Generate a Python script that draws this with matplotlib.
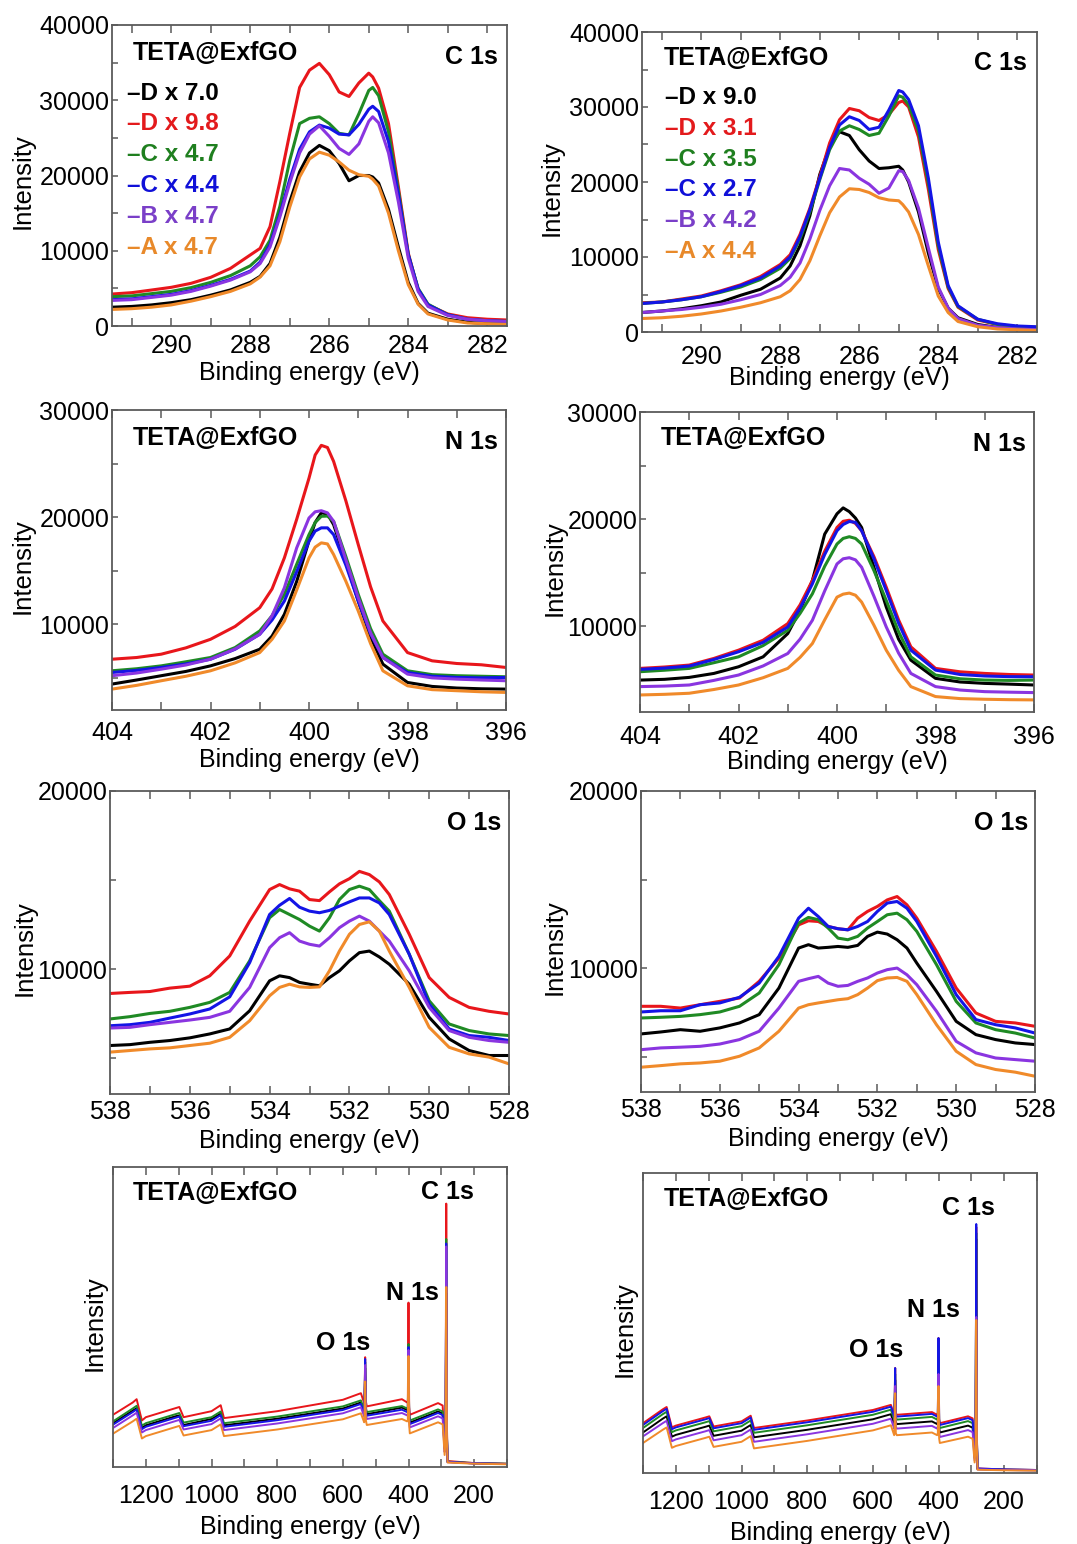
import matplotlib
matplotlib.use('Agg')
import matplotlib.pyplot as plt
from matplotlib.ticker import MultipleLocator

plt.rcParams['font.family'] = ['Liberation Sans', 'DejaVu Sans']

# sample order: D, D, C, C, B, A
LINE_COLORS = ['#000000', '#e8161b', '#1f8a24', '#1414e6', '#8a35e0', '#f08a2a']
TEXT_COLORS = ['#000000', '#e31a1c', '#1f7f1f', '#1010d8', '#7a3fc8', '#e8892a']

labels_left = ['\u2013D x 7.0', '\u2013D x 9.8', '\u2013C x 4.7',
               '\u2013C x 4.4', '\u2013B x 4.7', '\u2013A x 4.7']
labels_right = ['\u2013D x 9.0', '\u2013D x 3.1', '\u2013C x 3.5',
                '\u2013C x 2.7', '\u2013B x 4.2', '\u2013A x 4.4']

# ---- C 1s ----
c1s_be = [291.5, 291.0, 290.5, 290.0, 289.5, 289.0, 288.5, 288.0, 287.75,
          287.5, 287.25, 287.0, 286.75, 286.5, 286.25, 286.0, 285.75, 285.5,
          285.25, 285.0, 284.9, 284.75, 284.5, 284.25, 284.0, 283.75, 283.5,
          283.0, 282.5, 282.0, 281.5]

c1s_l_black = [2500, 2600, 2800, 3100, 3500, 4100, 4800, 5800, 6600, 8300,
               11800, 16500, 20500, 23000, 24000, 23300, 21600, 19300, 20000,
               20000, 19800, 19000, 15500, 10500, 5800, 3000, 1700, 900, 500,
               300, 300]
c1s_l_red = [4250, 4430, 4780, 5140, 5670, 6470, 7660, 9440, 10320, 13200,
             19200, 25600, 31700, 34000, 34900, 33400, 31100, 30500, 32300,
             33600, 33100, 31600, 26900, 18500, 9700, 4800, 2800, 1600, 1100,
             900, 800]
c1s_l_green = [3900, 4000, 4300, 4600, 5100, 5800, 6700, 8000, 9200, 11400,
               15900, 22000, 26900, 27600, 27800, 26900, 25600, 25400, 28200,
               31300, 31700, 30600, 25800, 18000, 9500, 5000, 2900, 1500, 900,
               700, 600]
c1s_l_blue = [3500, 3600, 3900, 4200, 4700, 5400, 6200, 7300, 8500, 10800,
              14800, 19500, 23500, 25800, 26700, 26300, 25500, 25400, 26800,
              28800, 29200, 28500, 24500, 17500, 9500, 4900, 2800, 1500, 900,
              700, 600]
c1s_l_purple = [3400, 3500, 3800, 4100, 4600, 5300, 6100, 7200, 8300, 10500,
                14500, 19000, 23000, 25500, 26600, 25200, 23600, 22800, 24200,
                27200, 27800, 27000, 23000, 16500, 9000, 4600, 2600, 1400, 900,
                700, 600]
c1s_l_orange = [2200, 2300, 2500, 2800, 3300, 3900, 4600, 5600, 6500, 8000,
                11200, 15800, 19800, 22200, 23100, 22700, 21800, 20700, 20100,
                19900, 19500, 18600, 15000, 10000, 5500, 2900, 1600, 800, 400,
                300, 200]

c1s_r_black = [2600, 2800, 3100, 3500, 4000, 4900, 5700, 7200, 8800, 11500,
               15500, 21000, 24700, 26700, 26200, 24300, 22800, 21800, 21900,
               22100, 21600, 20000, 16000, 10500, 5800, 3200, 1900, 1000, 600,
               400, 300]
c1s_r_red = [3900, 4000, 4400, 4800, 5500, 6300, 7400, 9000, 10300, 13000,
             16500, 20700, 25200, 28300, 29800, 29500, 28600, 28200, 29000,
             30600, 30800, 30000, 26000, 19000, 11000, 5800, 3300, 1600, 1000,
             700, 600]
c1s_r_green = [3800, 4000, 4300, 4700, 5300, 6000, 7000, 8500, 9800, 12400,
               16000, 20300, 24300, 26800, 27500, 27000, 26200, 26500, 28800,
               31500, 31300, 30300, 26800, 19800, 11500, 6000, 3400, 1700,
               1000, 700, 600]
c1s_r_blue = [3800, 4000, 4300, 4700, 5400, 6200, 7200, 8800, 10000, 12700,
              16300, 20500, 24600, 27600, 28700, 28200, 27000, 27300, 29600,
              32200, 32000, 31000, 27500, 20500, 12000, 6200, 3500, 1700, 1100,
              800, 700]
c1s_r_purple = [2600, 2800, 3000, 3300, 3700, 4300, 5000, 6200, 7300, 9200,
                12400, 16200, 19500, 21800, 21600, 20500, 19700, 18500, 19200,
                21500, 21400, 20200, 16500, 11200, 6000, 3200, 1800, 900, 600,
                400, 300]
c1s_r_orange = [1800, 1900, 2100, 2400, 2800, 3300, 3900, 4700, 5500, 7000,
                9500, 12800, 15900, 18000, 19100, 19000, 18600, 17900, 17600,
                17500, 17000, 16000, 13000, 8800, 4800, 2600, 1400, 700, 400,
                300, 200]

# ---- N 1s ----
n1s_be = [404.0, 403.5, 403.0, 402.5, 402.0, 401.5, 401.0, 400.75, 400.5,
          400.25, 400.0, 399.875, 399.75, 399.625, 399.5, 399.25, 399.0,
          398.75, 398.5, 398.0, 397.5, 397.0, 396.5, 396.0]

n1s_l_black = [4420, 4800, 5200, 5600, 6120, 6800, 7670, 8900, 10930, 14000,
               17800, 19500, 20400, 20300, 19300, 15800, 12170, 8800, 6280,
               4570, 4200, 4050, 3980, 3950]
n1s_l_red = [6740, 6900, 7210, 7800, 8600, 9800, 11550, 13300, 16200, 19800,
             23640, 25800, 26700, 26500, 25200, 21500, 17440, 13500, 10310,
             7360, 6590, 6340, 6220, 5970]
n1s_l_green = [5660, 5850, 6120, 6500, 6900, 7830, 9380, 10800, 12790, 15600,
               18370, 19500, 20080, 20100, 19610, 16300, 12790, 9600, 7210,
               5660, 5300, 5200, 5150, 5100]
n1s_l_blue = [5500, 5700, 5970, 6300, 6740, 7670, 9070, 10400, 12170, 14900,
              17750, 18700, 19000, 19000, 18370, 15500, 12170, 9100, 6900,
              5500, 5150, 5040, 5000, 5040]
n1s_l_purple = [5200, 5450, 5810, 6200, 6740, 7700, 9070, 10800, 13410, 17130,
                19920, 20500, 20600, 20400, 19610, 16000, 12480, 9200, 6900,
                5350, 5000, 4880, 4800, 4730]
n1s_l_orange = [3950, 4300, 4730, 5150, 5660, 6400, 7360, 8600, 10310, 13200,
                16200, 17200, 17600, 17500, 16510, 14000, 11240, 8200, 5660,
                4260, 3900, 3800, 3700, 3640]

n1s_r_black = [4980, 5050, 5230, 5600, 6220, 7150, 9320, 11500, 14270, 18600,
               20500, 21050, 20700, 20100, 19220, 15500, 11800, 8800, 6840,
               5140, 4800, 4670, 4600, 4520]
n1s_r_red = [6070, 6200, 6380, 7000, 7770, 8700, 10250, 12000, 14270, 17000,
             19220, 19800, 19900, 19600, 18920, 16500, 13650, 10600, 8080,
             6070, 5750, 5600, 5500, 5450]
n1s_r_green = [5760, 5900, 6070, 6600, 7150, 8200, 9630, 11200, 13030, 15600,
               17680, 18200, 18360, 18200, 17680, 15200, 12410, 9500, 7150,
               5450, 5100, 4980, 4950, 4980]
n1s_r_blue = [5980, 6100, 6290, 6900, 7620, 8500, 9940, 11700, 13960, 16700,
              18920, 19500, 19780, 19700, 18920, 16300, 13340, 10300, 7770,
              5910, 5500, 5360, 5300, 5290]
n1s_r_purple = [4370, 4420, 4520, 4950, 5450, 6300, 7460, 8800, 10560, 13300,
                15820, 16300, 16400, 16200, 15510, 12800, 9940, 7500, 5600,
                4370, 4050, 3900, 3850, 3810]
n1s_r_orange = [3590, 3650, 3750, 4100, 4520, 5200, 6070, 7100, 8390, 10600,
                12720, 13000, 13100, 12900, 12260, 10100, 7770, 5900, 4370,
                3440, 3250, 3190, 3150, 3130]

# ---- O 1s ----
o1s_be = [538.0, 537.5, 537.0, 536.5, 536.0, 535.5, 535.0, 534.5, 534.0,
          533.75, 533.5, 533.25, 533.0, 532.75, 532.5, 532.25, 532.0, 531.75,
          531.5, 531.25, 531.0, 530.5, 530.0, 529.5, 529.0, 528.5, 528.0]

o1s_l_black = [5720, 5770, 5900, 6000, 6150, 6370, 6650, 7670, 9350, 9630,
               9530, 9260, 9160, 9070, 9530, 9910, 10470, 10930, 11020, 10690,
               10280, 9160, 7300, 6090, 5440, 5160, 5160]
o1s_l_red = [8640, 8700, 8750, 8940, 9050, 9630, 10745, 12700, 14470, 14750,
             14510, 14380, 13910, 13850, 14340, 14790, 15080, 15490, 15310,
             14900, 14190, 11960, 9530, 8420, 7860, 7640, 7490]
o1s_l_green = [7210, 7340, 7520, 7640, 7860, 8140, 8700, 10470, 12890, 13350,
               13070, 12790, 12420, 12140, 12890, 13910, 14470, 14660, 14470,
               13850, 13260, 10840, 8230, 6930, 6560, 6370, 6280]
o1s_l_blue = [6830, 6890, 7020, 7260, 7490, 7770, 8450, 10370, 13070, 13590,
              13970, 13480, 13260, 13170, 13300, 13540, 13780, 14000, 14000,
              13720, 13070, 10840, 8040, 6650, 6280, 6180, 6000]
o1s_l_purple = [6700, 6740, 6890, 7020, 7150, 7300, 7640, 8980, 11210, 11770,
                12050, 11580, 11400, 11300, 11770, 12330, 12700, 12980, 12700,
                12140, 11580, 9910, 7860, 6560, 6180, 6000, 5900]
o1s_l_orange = [5350, 5440, 5530, 5590, 5720, 5850, 6180, 7110, 8510, 8980,
                9160, 9010, 8980, 9010, 9910, 11020, 11960, 12510, 12660, 12140,
                11020, 8980, 6740, 5620, 5250, 5070, 4690]

o1s_r_black = [6280, 6390, 6520, 6430, 6620, 6900, 7370, 8870, 11130, 11320,
               11130, 11170, 11220, 11170, 11280, 11790, 12030, 11920, 11600,
               11130, 10280, 8680, 6990, 6240, 5960, 5770, 5680]
o1s_r_red = [7840, 7840, 7740, 7930, 8120, 8310, 9250, 10560, 12440, 12670,
             12630, 12350, 12220, 12160, 12820, 13200, 13480, 13850, 14040,
             13570, 12820, 10940, 8870, 7460, 6990, 6900, 6710]
o1s_r_green = [7180, 7220, 7270, 7370, 7520, 7840, 8590, 10190, 12540, 12860,
               12730, 12260, 11690, 11600, 11790, 12260, 12630, 13010, 13100,
               12730, 12070, 10190, 8120, 6900, 6520, 6330, 6050]
o1s_r_blue = [7520, 7590, 7590, 7930, 8030, 8350, 9150, 10660, 12820, 13380,
              12910, 12350, 12220, 12160, 12350, 12630, 13200, 13670, 13760,
              13380, 12630, 10660, 8500, 7090, 6800, 6620, 6330]
o1s_r_purple = [5390, 5490, 5530, 5580, 5710, 5960, 6430, 7740, 9250, 9400,
                9530, 9150, 8970, 9020, 9250, 9440, 9720, 9910, 10000, 9620,
                9060, 7560, 5860, 5210, 4920, 4830, 4740]
o1s_r_orange = [4400, 4490, 4590, 4640, 4740, 5020, 5490, 6430, 7740, 7930,
                8030, 8120, 8210, 8270, 8500, 8870, 9290, 9440, 9470, 9250,
                8500, 6800, 5300, 4550, 4270, 4120, 3890]

# ---- survey scans (arbitrary units) ----
survey_be = [1300, 1240, 1228, 1212, 1200, 1110, 1098, 1085, 1000, 972, 962,
             800, 600, 545, 535, 534, 532, 530, 527, 420, 404, 402, 400, 398,
             396, 310, 296, 290, 287, 285, 283, 281, 200, 100]

sv_l_black = [14.6, 18.8, 19.6, 13.0, 13.9, 16.9, 17.2, 14.0, 16.0, 17.8, 13.9,
              16.1, 19.5, 21.5, 18.5, 19.3, 33.0, 19.3, 17.6, 19.8, 19.0, 19.3,
              38.0, 17.5, 14.8, 18.5, 17.8, 6.5, 11.0, 58.0, 11.0, 1.7, 1.2, 1.0]
sv_l_red = [17.4, 21.5, 22.6, 15.5, 16.6, 19.6, 20.0, 16.6, 18.6, 20.6, 16.3,
            18.6, 22.4, 24.6, 21.3, 22.0, 36.6, 22.0, 20.2, 22.6, 21.5, 22.0,
            54.8, 20.0, 17.4, 21.3, 20.5, 8.0, 14.0, 87.8, 14.0, 2.0, 1.3, 1.1]
sv_l_green = [15.2, 19.5, 20.4, 13.8, 14.6, 17.6, 18.0, 14.8, 16.6, 18.5, 14.6,
              16.8, 20.2, 22.2, 19.2, 20.0, 35.0, 20.0, 18.3, 20.3, 19.5, 20.0,
              41.0, 18.0, 15.5, 19.2, 18.5, 7.0, 12.0, 76.0, 12.0, 1.8, 1.3, 1.1]
sv_l_blue = [14.1, 18.3, 19.2, 12.6, 13.4, 16.4, 16.8, 13.6, 15.4, 17.3, 13.4,
             15.6, 19.0, 21.0, 18.0, 18.8, 36.0, 18.8, 17.1, 19.1, 18.3, 18.8,
             40.0, 17.0, 14.3, 18.0, 17.3, 6.0, 11.0, 74.5, 11.0, 1.7, 1.2, 1.0]
sv_l_purple = [13.0, 17.2, 18.1, 11.5, 12.3, 15.3, 15.7, 12.5, 14.3, 16.2, 12.3,
               14.5, 17.9, 19.9, 16.9, 17.7, 34.0, 17.7, 16.0, 18.0, 17.2, 17.7,
               39.0, 16.0, 13.2, 16.9, 16.2, 5.0, 10.0, 73.5, 10.0, 1.6, 1.2, 1.0]
sv_l_orange = [11.1, 15.2, 16.1, 9.5, 10.3, 13.3, 13.7, 10.5, 12.3, 14.2, 10.3,
               12.5, 15.9, 17.9, 14.9, 15.7, 28.5, 15.7, 14.0, 16.0, 15.2, 15.7,
               37.0, 14.0, 11.2, 14.9, 14.2, 4.0, 9.0, 60.0, 9.0, 1.5, 1.1, 0.9]

sv_r_black = [13.5, 18.1, 18.9, 12.1, 12.7, 15.4, 15.8, 12.4, 14.1, 16.0, 11.9,
              14.4, 17.9, 19.6, 16.3, 17.0, 31.0, 17.0, 16.3, 17.2, 16.3, 17.0,
              40.0, 15.0, 13.5, 15.8, 15.1, 5.0, 10.0, 78.0, 10.0, 1.3, 1.0, 0.9]
sv_r_red = [16.6, 21.2, 22.0, 15.2, 15.8, 18.5, 18.9, 15.5, 17.2, 19.1, 15.0,
            17.5, 21.0, 22.7, 19.4, 20.0, 35.0, 20.0, 19.4, 20.3, 19.4, 20.0,
            45.0, 18.0, 16.6, 18.9, 18.2, 6.7, 12.0, 82.0, 12.0, 1.5, 1.2, 1.0]
sv_r_green = [15.0, 19.6, 20.4, 13.6, 14.2, 16.9, 17.3, 13.9, 15.6, 17.5, 13.4,
              15.9, 19.4, 21.1, 17.8, 18.5, 33.0, 18.5, 17.8, 18.7, 17.8, 18.5,
              43.0, 16.5, 15.0, 17.3, 16.6, 5.8, 11.0, 80.0, 11.0, 1.4, 1.1, 1.0]
sv_r_blue = [16.0, 20.6, 21.4, 14.6, 15.2, 17.9, 18.3, 14.9, 16.6, 18.5, 14.4,
             16.9, 20.4, 22.1, 18.8, 19.5, 35.0, 19.5, 18.8, 19.7, 18.8, 19.5,
             45.0, 17.5, 16.0, 18.3, 17.6, 6.3, 11.5, 83.0, 11.5, 1.5, 1.2, 1.0]
sv_r_purple = [12.2, 16.6, 17.4, 10.6, 11.2, 13.9, 14.3, 10.9, 12.6, 14.5, 10.4,
               12.9, 16.4, 18.1, 14.8, 15.5, 29.0, 15.5, 14.8, 15.7, 14.8, 15.5,
               33.0, 13.5, 12.0, 14.3, 13.6, 4.2, 9.0, 52.0, 9.0, 1.2, 1.0, 0.9]
sv_r_orange = [10.0, 14.4, 15.2, 8.4, 9.0, 11.7, 12.1, 8.7, 10.4, 12.3, 8.2,
               10.7, 14.2, 15.9, 12.6, 13.3, 26.6, 13.3, 12.6, 13.5, 12.6, 13.3,
               29.0, 11.5, 10.0, 12.1, 11.4, 3.5, 8.0, 51.0, 8.0, 1.1, 0.9, 0.8]

FIG_W, FIG_H = 1077, 1544
SPINE = '#5a5a5a'


def px_rect(left, top, right, bottom):
    '''axes box from pixel edges of the canvas'''
    return [left / FIG_W, 1 - bottom / FIG_H,
            (right - left) / FIG_W, (bottom - top) / FIG_H]


def make_axes(fig, box, xlim, ylim, xmajor, xminor, ymajor=None, yminor=None,
              xpad=6, xlabel_y=-0.14, ylabel_x=-0.22):
    ax = fig.add_axes(px_rect(*box))
    ax.set_xlim(*xlim)
    ax.set_ylim(*ylim)
    ax.xaxis.set_major_locator(MultipleLocator(xmajor))
    ax.xaxis.set_minor_locator(MultipleLocator(xminor))
    if ymajor:
        ax.yaxis.set_major_locator(MultipleLocator(ymajor))
        ax.yaxis.set_minor_locator(MultipleLocator(yminor))
    else:
        ax.set_yticks([])
    ax.tick_params(axis='x', which='both', direction='in', top=True,
                   length=6, width=1.1, color=SPINE, labelsize=18, pad=xpad)
    ax.tick_params(axis='y', which='both', direction='in', right=False,
                   length=4, width=1.1, color=SPINE, labelsize=18, pad=2)
    for s in ax.spines.values():
        s.set_color(SPINE)
        s.set_linewidth(1.3)
    ax.set_xlabel('Binding energy (eV)', fontsize=18)
    ax.xaxis.label.set_va('center')
    ax.xaxis.set_label_coords(0.5, xlabel_y)
    ax.set_ylabel('Intensity', fontsize=18.5)
    ax.yaxis.label.set_va('center')
    ax.yaxis.set_label_coords(ylabel_x, 0.48)
    return ax


def draw_series(ax, be, series, lw):
    for vals, c in zip(series, LINE_COLORS):
        ax.plot(be, vals, color=c, lw=lw, solid_joinstyle='round')


def corner_text(ax, x, y, s, ha='left'):
    ax.text(x, y, s, transform=ax.transAxes, fontsize=18, fontweight='bold',
            ha=ha, va='center')


def sample_labels(ax, labels, x, y0, step):
    for i, (lab, c) in enumerate(zip(labels, TEXT_COLORS)):
        ax.text(x, y0 - i * step, lab, transform=ax.transAxes, color=c,
                fontsize=17.5, fontweight='bold', ha='left', va='center')


fig = plt.figure(figsize=(FIG_W / 100, FIG_H / 100), dpi=100)

# C 1s
ax = make_axes(fig, (112, 25, 507, 326), (291.5, 281.5), (0, 40000), 2, 1,
               10000, 5000, xpad=6, xlabel_y=-0.155, ylabel_x=-0.225)
draw_series(ax, c1s_be, [c1s_l_black, c1s_l_red, c1s_l_green, c1s_l_blue,
                         c1s_l_purple, c1s_l_orange], 2.2)
corner_text(ax, 0.053, 0.907, 'TETA@ExfGO')
corner_text(ax, 0.977, 0.894, 'C 1s', ha='right')
sample_labels(ax, labels_left, 0.038, 0.774, 0.1025)

ax = make_axes(fig, (642, 32, 1037, 332), (291.5, 281.5), (0, 40000), 2, 1,
               10000, 5000, xpad=9, xlabel_y=-0.155, ylabel_x=-0.228)
draw_series(ax, c1s_be, [c1s_r_black, c1s_r_red, c1s_r_green, c1s_r_blue,
                         c1s_r_purple, c1s_r_orange], 2.2)
corner_text(ax, 0.056, 0.913, 'TETA@ExfGO')
corner_text(ax, 0.975, 0.897, 'C 1s', ha='right')
sample_labels(ax, labels_right, 0.058, 0.783, 0.1032)

# N 1s
ax = make_axes(fig, (112, 410, 506, 710), (404, 396), (2000, 30000), 2, 1,
               10000, 5000, xpad=8, xlabel_y=-0.167, ylabel_x=-0.226)
draw_series(ax, n1s_be, [n1s_l_black, n1s_l_red, n1s_l_green, n1s_l_blue,
                         n1s_l_purple, n1s_l_orange], 2.2)
corner_text(ax, 0.053, 0.907, 'TETA@ExfGO')
corner_text(ax, 0.98, 0.893, 'N 1s', ha='right')

ax = make_axes(fig, (640, 412, 1034, 712), (404, 396), (2000, 30000), 2, 1,
               10000, 5000, xpad=9, xlabel_y=-0.165, ylabel_x=-0.216)
draw_series(ax, n1s_be, [n1s_r_black, n1s_r_red, n1s_r_green, n1s_r_blue,
                         n1s_r_purple, n1s_r_orange], 2.2)
corner_text(ax, 0.053, 0.913, 'TETA@ExfGO')
corner_text(ax, 0.98, 0.893, 'N 1s', ha='right')

# O 1s
ax = make_axes(fig, (110, 791, 509, 1094), (538, 528), (3000, 20000), 2, 1,
               10000, 5000, xpad=4, xlabel_y=-0.155, ylabel_x=-0.213)
draw_series(ax, o1s_be, [o1s_l_black, o1s_l_red, o1s_l_green, o1s_l_blue,
                         o1s_l_purple, o1s_l_orange], 2.2)
corner_text(ax, 0.98, 0.894, 'O 1s', ha='right')

ax = make_axes(fig, (641, 791, 1035, 1092), (538, 528), (3000, 20000), 2, 1,
               10000, 5000, xpad=4, xlabel_y=-0.155, ylabel_x=-0.218)
draw_series(ax, o1s_be, [o1s_r_black, o1s_r_red, o1s_r_green, o1s_r_blue,
                         o1s_r_purple, o1s_r_orange], 2.2)
corner_text(ax, 0.982, 0.894, 'O 1s', ha='right')

# survey
ax = make_axes(fig, (113, 1167, 507, 1467), (1300, 100), (0, 100), 200, 100,
               xpad=12, xlabel_y=-0.2, ylabel_x=-0.046)
draw_series(ax, survey_be, [sv_l_black, sv_l_red, sv_l_green, sv_l_blue,
                            sv_l_purple, sv_l_orange], 1.4)
corner_text(ax, 0.05, 0.913, 'TETA@ExfGO')
corner_text(ax, 0.848, 0.917, 'C 1s', ha='center')
corner_text(ax, 0.759, 0.58, 'N 1s', ha='center')
corner_text(ax, 0.584, 0.413, 'O 1s', ha='center')

ax = make_axes(fig, (643, 1173, 1037, 1473), (1300, 100), (0, 100), 200, 100,
               xpad=12, xlabel_y=-0.2, ylabel_x=-0.046)
draw_series(ax, survey_be, [sv_r_black, sv_r_red, sv_r_green, sv_r_blue,
                            sv_r_purple, sv_r_orange], 1.4)
corner_text(ax, 0.053, 0.913, 'TETA@ExfGO')
corner_text(ax, 0.827, 0.883, 'C 1s', ha='center')
corner_text(ax, 0.736, 0.543, 'N 1s', ha='center')
corner_text(ax, 0.591, 0.41, 'O 1s', ha='center')

fig.savefig('out.png', dpi=100)
